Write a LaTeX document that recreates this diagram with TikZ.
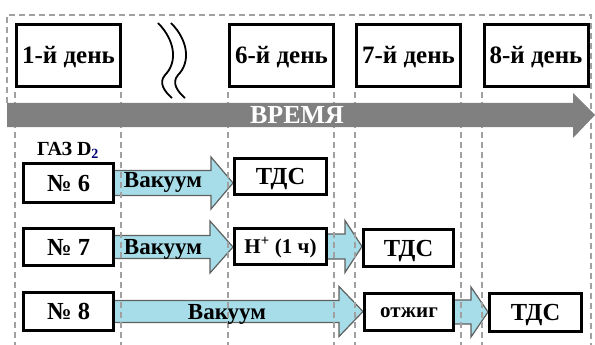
\documentclass[tikz,border=0pt]{standalone}
\usepackage{fontspec}
\setmainfont{Liberation Serif}
\usetikzlibrary{calc}
\pgfdeclarelayer{background}
\pgfsetlayers{background,main}
\definecolor{arrfill}{HTML}{A6DDE8}
\definecolor{arrline}{HTML}{5F6060}
\definecolor{timegray}{HTML}{808080}
\definecolor{dashgray}{HTML}{A0A0A0}
\newcommand{\blockarr}[5]{%
  \draw[blockarrow] let \p1=(#1), \p2=(#2) in
    (\x1,{\y1+#3pt}) -- ({\x2-#5pt},{\y1+#3pt}) -- ({\x2-#5pt},{\y1+#4pt}) --
    (\x2,\y1) -- ({\x2-#5pt},{\y1-#4pt}) -- ({\x2-#5pt},{\y1-#3pt}) --
    (\x1,{\y1-#3pt}) -- cycle;}
\begin{document}
\begin{tikzpicture}[x=1pt,y=-1pt,
  daybox/.style={draw=black,line width=3pt,fill=white,inner sep=0pt,
    text height=16.5pt,text depth=0pt,
    minimum width=104pt,minimum height=62pt,font=\bfseries\fontsize{25}{25}\selectfont},
  rowbox/.style={draw=black,line width=3pt,fill=white,inner sep=0pt,
    text height=16pt,text depth=0pt,
    minimum height=38pt,font=\bfseries\fontsize{24.5}{24.5}\selectfont},
  smallbox/.style={rowbox,text height=14pt,font=\bfseries\fontsize{21}{21}\selectfont},
  blockarrow/.style={draw=arrline,line width=1.2pt,fill=arrfill,line join=miter},
  guide/.style={draw=dashgray,line width=1.3pt,dash pattern=on 6pt off 4pt},
  arrlabel/.style={font=\bfseries\fontsize{23}{23}\selectfont,inner sep=0pt,
    text height=15pt,text depth=0pt},
  wave/.style={draw=black,line width=1.8pt}]
\useasboundingbox (0,0) rectangle (595,345);
% outer dashed frame
\draw[guide] (7,103) -- (7,15) -- (591,15) -- (591,345);
% column guides
\foreach \gx in {15,121,228,334,355,461,482}
  \draw[guide] (\gx,92) -- (\gx,345);
% time arrow
\fill[timegray] (7,103) -- (573,103) -- (573,93) -- (595,115) -- (573,138) -- (573,127) -- (7,127) -- cycle;
\node[font=\bfseries\fontsize{26}{26}\selectfont,text=white,inner sep=0pt,
  text height=17pt,text depth=0pt] (time) at (297,115.5) {ВРЕМЯ};
% day boxes
\node[daybox] (d1) at (68.5,55.5) {1-й день};
\node[daybox] (d6) at (281.5,55.5) {6-й день};
\node[daybox] (d7) at (408.5,55.5) {7-й день};
\node[daybox] (d8) at (536,55.5) {8-й день};
% break marks
\draw[wave] (158,23) .. controls (175,40) and (178,62) .. (165,75) .. controls (158,83) and (165,92) .. (172,98);
\draw[wave] (171,23) .. controls (188,40) and (191,62) .. (178,75) .. controls (171,83) and (178,92) .. (185,98);
% gas label
\node[font=\bfseries\fontsize{20}{20}\selectfont,inner sep=0pt,
  text height=13pt,text depth=0pt] (gas) at (68,149) {ГАЗ D\textsubscript{\color{blue!45!black}2}};
% row boxes
\node[rowbox,minimum width=90pt,minimum height=39pt] (n6) at (68.5,183) {№ 6};
\node[rowbox,minimum width=92pt,minimum height=36pt] (t1) at (280.5,176.5) {ТДС};
\node[rowbox,minimum width=90pt,minimum height=37pt] (n7) at (68.5,247) {№ 7};
\node[smallbox,minimum width=92pt,minimum height=36pt] (hp) at (280.5,246.5) {H\textsuperscript{+} (1 ч)};
\node[rowbox,minimum width=90pt,minimum height=37pt] (t2) at (408.5,248) {ТДС};
\node[rowbox,minimum width=90pt,minimum height=38pt] (n8) at (68.5,311.5) {№ 8};
\node[smallbox,minimum width=89pt,minimum height=37pt,text height=10pt] (ot) at (409,312) {отжиг};
\node[rowbox,minimum width=92pt,minimum height=38pt] (t3) at (535.5,312.5) {ТДС};
% block arrows (behind guides and boxes)
\begin{pgfonlayer}{background}
\blockarr{n6.center}{t1.west}{12.5}{26}{22}
\blockarr{n7.center}{hp.west}{11.5}{26}{23}
\blockarr{hp.center}{t2.west}{12.5}{26}{17}
\blockarr{n8.center}{ot.west}{11}{25}{24}
\blockarr{ot.center}{t3.west}{12}{25}{17}
\end{pgfonlayer}
% arrow labels
\node[arrlabel] (v1) at ($(n6.east)!0.5!(t1.west)+(-11,0)$) {Вакуум};
\node[arrlabel] (v2) at ($(n7.east)!0.5!(hp.west)+(-11,0)$) {Вакуум};
\node[arrlabel] (v3) at ($(n8.east)!0.5!(ot.west)+(-12,0)$) {Вакуум};
\end{tikzpicture}
\end{document}
